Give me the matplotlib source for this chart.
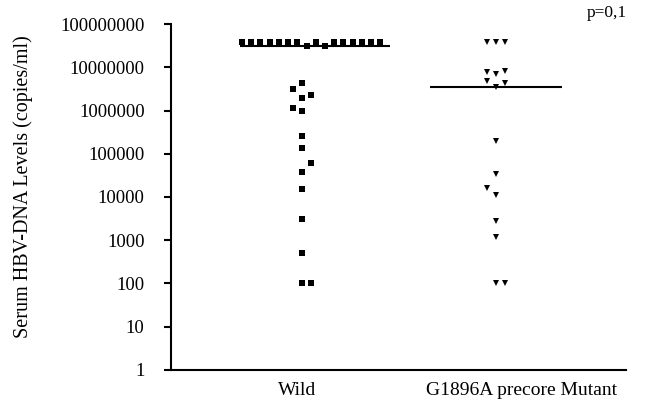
import numpy as np
from matplotlib import pyplot as plt
from matplotlib.ticker import FixedLocator, FixedFormatter, NullLocator

plt.rcParams['font.family'] = ['Liberation Serif', 'DejaVu Serif']

groups = ['Wild', 'G1896A precore Mutant']
y_label = 'Serum HBV-DNA Levels (copies/ml)'
p_text = 'p=0,1'

# horizontal slot of each point (side-by-side points) and its value
wild_slots = [-6.5, -5.5, -4.5, -3.5, -2.5, -1.5, -0.5, 0.5, 1.5, 2.5, 3.5, 4.5, 5.5, 6.5, 7.5, 8.5,
              0, -1, 1, 0, -1, 0, 0, 0, 1, 0, 0, 0, 0, 0, 1]
wild_values = [3.8e7, 3.8e7, 3.8e7, 3.8e7, 3.8e7, 3.8e7, 3.8e7, 3.1e7, 3.8e7, 3.1e7,
               3.8e7, 3.8e7, 3.8e7, 3.8e7, 3.8e7, 3.8e7,
               4.3e6, 3.1e6, 2.3e6, 1.9e6, 1.15e6, 1.0e6, 2.6e5, 1.35e5, 6.1e4, 3.8e4,
               1.5e4, 3.1e3, 510, 100, 100]

mutant_slots = [-1, 0, 1, -1, 0, 1, -1, 0, 1, 0, 0, -1, 0, 0, 0, 0, 1]
mutant_values = [3.8e7, 3.8e7, 3.8e7, 7.8e6, 6.9e6, 8.2e6, 4.8e6, 3.5e6, 4.3e6,
                 2.0e5, 3.4e4, 1.6e4, 1.1e4, 2.8e3, 1.2e3, 100, 100]

y_ticks = [10 ** k for k in range(9)]
y_tick_labels = [str(v) for v in y_ticks]

SLOT = 0.0475

fig = plt.figure(figsize=(6.47, 4.09), dpi=100)
ax = fig.add_axes([0.2643, 0.0954, 0.7032, 0.8459])

wx = 1 + SLOT * np.array(wild_slots)
mx = 2 + SLOT * np.array(mutant_slots)
ax.plot(wx, wild_values, ls='none', marker='s', ms=4.9, mew=0, color='black')
ax.plot(mx, mutant_values, ls='none', marker='v', ms=4.6, mew=0, color='black')

ax.hlines(np.median(wild_values), 1 - 0.32, 1 + 0.455, color='black', lw=1.5)
ax.hlines(np.median(mutant_values), 2 - 0.34, 2 + 0.34, color='black', lw=1.5)

ax.set_yscale('log')
ax.set_ylim(1, 1e8)
ax.set_xlim(0.325, 2.67)
ax.yaxis.set_major_locator(FixedLocator(y_ticks))
ax.yaxis.set_major_formatter(FixedFormatter(y_tick_labels))
ax.yaxis.set_minor_locator(NullLocator())
ax.set_xticks([0.975, 2.13])
ax.set_xticklabels(groups)

for side in ('top', 'right'):
    ax.spines[side].set_visible(False)
for side in ('left', 'bottom'):
    ax.spines[side].set_linewidth(1.5)
ax.tick_params(axis='y', length=5, width=1.5, pad=14, labelsize=13.5)
ax.tick_params(axis='x', length=0, pad=9, labelsize=14)

ax.set_ylabel(y_label, fontsize=14.5)
ax.yaxis.set_label_coords(-0.303, 0.53)

fig.text(0.938, 0.968, p_text, ha='center', va='center', fontsize=12.5)

fig.savefig('out.png', dpi=100)
